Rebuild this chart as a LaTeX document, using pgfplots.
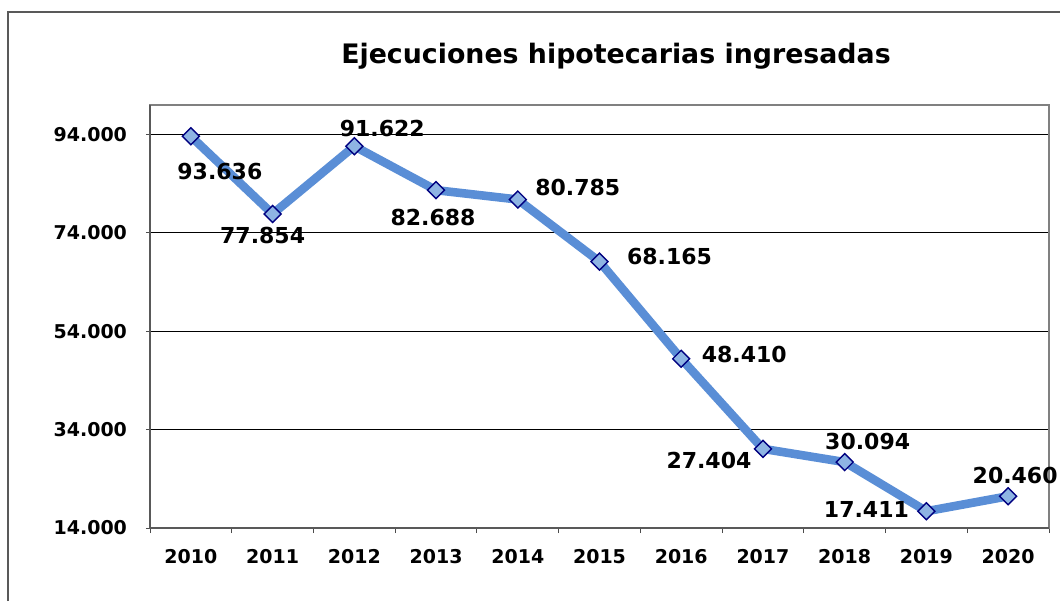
\documentclass[border=0pt]{standalone}
\usepackage{pgfplots}
\pgfplotsset{compat=1.18}
\usepackage{fontspec}
\setmainfont{DejaVu Sans}
\definecolor{linecol}{HTML}{5A8ED6}
\definecolor{markfill}{HTML}{8EB4E3}
\definecolor{markdraw}{HTML}{000080}
\begin{document}
\begin{tikzpicture}
\useasboundingbox (0,0) rectangle (530pt,300.5pt);
\draw[gray!70!black, line width=0.6pt] (4pt,0) -- (4pt,294.5pt) -- (531pt,294.5pt);
\node[font=\bfseries\fontsize{13.4}{15}\selectfont] at (308pt,272.5pt) {Ejecuciones hipotecarias ingresadas};
\begin{axis}[
    at={(75pt,36.5pt)}, anchor=south west,
    scale only axis, width=449.5pt, height=211.5pt,
    xmin=-0.5, xmax=10.5, ymin=14000, ymax=100000,
    xtick={0,...,10},
    xticklabels={\textbf{2010},\textbf{2011},\textbf{2012},\textbf{2013},\textbf{2014},\textbf{2015},\textbf{2016},\textbf{2017},\textbf{2018},\textbf{2019},\textbf{2020}},
    major x tick style={draw=none},
    minor xtick={-0.5,0.5,...,10.5},
    minor tick length=2.5pt,
    ytick={14000,34000,54000,74000,94000},
    yticklabels={\textbf{14.000},\textbf{34.000},\textbf{54.000},\textbf{74.000},\textbf{94.000}},
    scaled y ticks=false,
    tick pos=left,
    major tick length=2pt,
    tick align=outside,
    tick style={black!70, line width=0.5pt},
    ymajorgrids,
    grid style={black, line width=0.5pt},
    axis line style={gray, line width=0.8pt},
    ticklabel style={font=\bfseries\fontsize{9.5}{11}\selectfont},
    yticklabel style={xshift=-6pt},
    xticklabel style={yshift=-5pt},
    clip=false,
]
\addplot[color=linecol, line width=4.3pt,
    mark=square*, mark size=3pt,
    mark options={rotate=45, fill=markfill, draw=markdraw, line width=0.7pt},
    visualization depends on={\thisrow{dx}\as\dx},
    visualization depends on={\thisrow{dy}\as\dy},
    nodes near coords, point meta=explicit symbolic,
    nodes near coords style={anchor=center, xshift=\dx pt, yshift=\dy pt,
        font=\bfseries\fontsize{11}{13}\selectfont, text=black}]
table[meta=lbl] {
x y lbl dx dy
0 93636 93.636 14.5 -17.5
1 77854 77.854 -5 -11
2 91622 91.622 14 9
3 82688 82.688 -1.5 -13.5
4 80785 80.785 30 6
5 68165 68.165 35 2.5
6 48410 48.410 31.5 2
7 30094 27.404 -27 -6
8 27404 30.094 11.5 10.5
9 17411 17.411 -30 1
10 20460 20.460 3.5 10.5
};
\draw[black!65, line width=1pt] (rel axis cs:0,1) -- (rel axis cs:0,0) -- (rel axis cs:1,0);
\end{axis}
\end{tikzpicture}
\end{document}
